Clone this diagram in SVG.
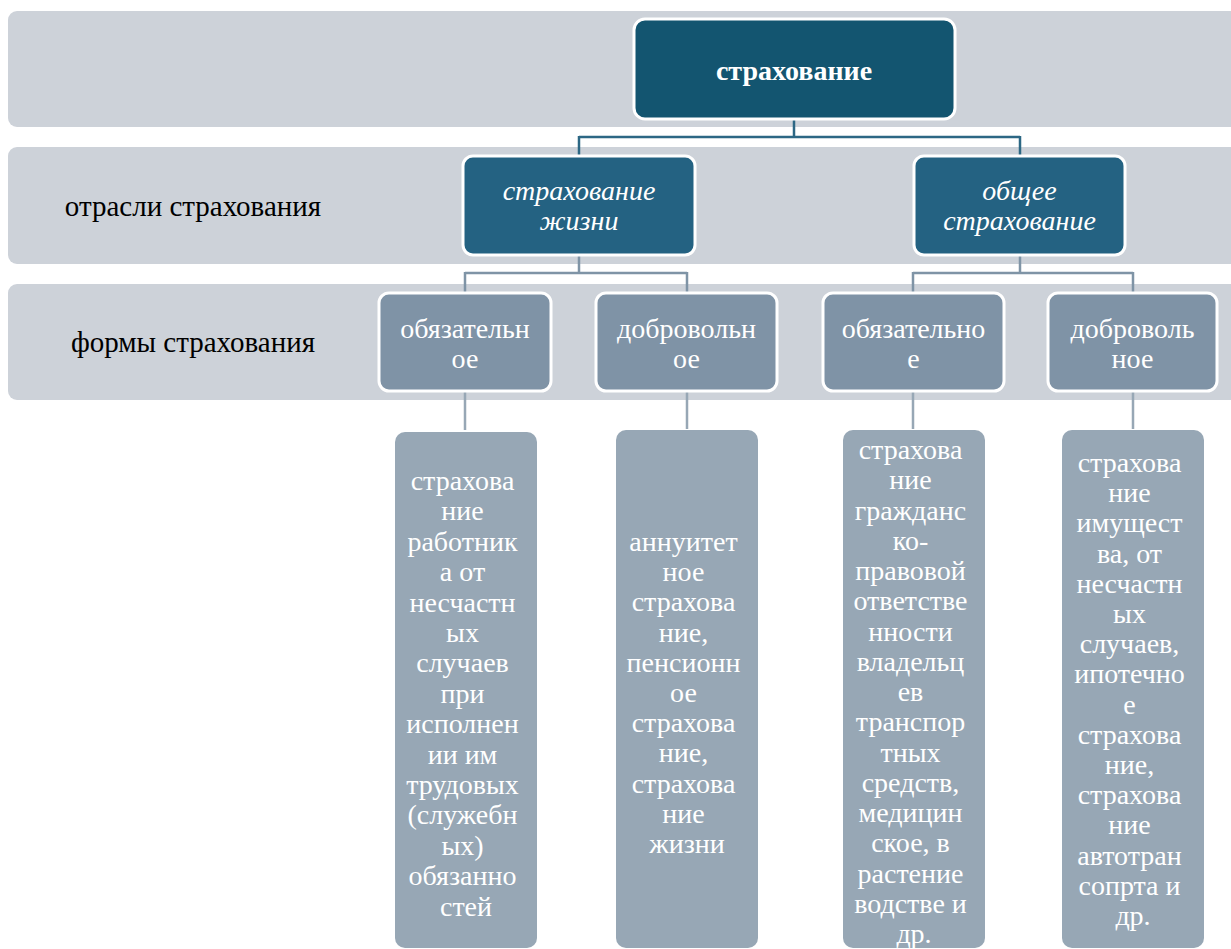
<svg xmlns="http://www.w3.org/2000/svg" width="1231" height="949" viewBox="0 0 1231 949">
<style>
.band{fill:#cdd2d9}
.top{fill:#135570;stroke:#ffffff;stroke-width:3}
.l2{fill:#246282;stroke:#ffffff;stroke-width:3}
.l3{fill:#7f93a6;stroke:#ffffff;stroke-width:3}
.leaf{fill:#97a7b5}
.t{font-size:28px;fill:#ffffff;text-anchor:middle}
.lbl{font-size:29px;fill:#000000;text-anchor:middle}
.c1{stroke:#2c6784;stroke-width:2.5;fill:none}
.c2{stroke:#7f94a6;stroke-width:2.5;fill:none}
.c3{stroke:#97a7b5;stroke-width:2.5;fill:none}
</style>
<g font-family="Liberation Serif, Times New Roman, DejaVu Serif, serif">
<g id="bands">
<rect class="band" x="8" y="11" width="1240" height="116" rx="9"/>
<rect class="band" x="8" y="147" width="1240" height="117" rx="9"/>
<rect class="band" x="8" y="284" width="1240" height="116" rx="9"/>
<text class="lbl" x="193" y="216">отрасли страхования</text>
<text class="lbl" x="193" y="352">формы страхования</text>
</g>
<g id="connectors">
<path class="c1" d="M794 119V137M579 137H1020M579 136V156M1020 136V156"/>
<path class="c2" d="M579 255V273M465 273H687M465 272V293M687 272V293"/>
<path class="c2" d="M1020 255V273M913 273H1133M913 272V293M1133 272V293"/>
<path class="c3" d="M465 392V430M687 392V429M913 392V429M1133 392V429"/>
</g>
<g id="n-root">
<rect class="top" x="634" y="19" width="321" height="100" rx="11"/>
<text class="t" x="794" y="80" font-weight="bold">страхование</text>
</g>
<g id="n-life">
<rect class="l2" x="463" y="156" width="232" height="99" rx="10"/>
<text class="t" x="579" y="200" font-style="italic">страхование</text>
<text class="t" x="579" y="230" font-style="italic">жизни</text>
</g>
<g id="n-general">
<rect class="l2" x="914" y="156" width="211" height="99" rx="10"/>
<text class="t" x="1019.5" y="200" font-style="italic">общее</text>
<text class="t" x="1019.5" y="230" font-style="italic">страхование</text>
</g>
<g id="n-life-oblig">
<rect class="l3" x="379" y="293" width="172" height="98" rx="10"/>
<text class="t" x="465" y="338">обязательн</text>
<text class="t" x="465" y="368">ое</text>
</g>
<g id="n-life-vol">
<rect class="l3" x="596" y="293" width="181" height="98" rx="10"/>
<text class="t" x="686.5" y="338">добровольн</text>
<text class="t" x="686.5" y="368">ое</text>
</g>
<g id="n-gen-oblig">
<rect class="l3" x="823" y="293" width="181" height="98" rx="10"/>
<text class="t" x="913.5" y="338">обязательно</text>
<text class="t" x="913.5" y="368">е</text>
</g>
<g id="n-gen-vol">
<rect class="l3" x="1048" y="293" width="169" height="98" rx="10"/>
<text class="t" x="1132.5" y="338">доброволь</text>
<text class="t" x="1132.5" y="368">ное</text>
</g>
<g id="leaf-life-oblig">
<rect class="leaf" x="395" y="432" width="142" height="516" rx="10"/>
<text class="t" x="466">
<tspan x="466" y="490">страхова</tspan>
<tspan x="466" y="520.4">ние</tspan>
<tspan x="466" y="550.8">работник</tspan>
<tspan x="466" y="581.2">а от</tspan>
<tspan x="466" y="611.6">несчастн</tspan>
<tspan x="466" y="642">ых</tspan>
<tspan x="466" y="672.4">случаев</tspan>
<tspan x="466" y="702.8">при</tspan>
<tspan x="466" y="733.2">исполнен</tspan>
<tspan x="466" y="763.6">ии им</tspan>
<tspan x="466" y="794">трудовых</tspan>
<tspan x="466" y="824.4">(служебн</tspan>
<tspan x="466" y="854.8">ых)</tspan>
<tspan x="466" y="885.2">обязанно</tspan>
<tspan x="466" y="915.6">стей</tspan>
</text>
</g>
<g id="leaf-life-vol">
<rect class="leaf" x="616" y="430" width="142" height="518" rx="10"/>
<text class="t" x="687">
<tspan x="687" y="551">аннуитет</tspan>
<tspan x="687" y="581.2">ное</tspan>
<tspan x="687" y="611.4">страхова</tspan>
<tspan x="687" y="641.6">ние,</tspan>
<tspan x="687" y="671.8">пенсионн</tspan>
<tspan x="687" y="702">ое</tspan>
<tspan x="687" y="732.2">страхова</tspan>
<tspan x="687" y="762.4">ние,</tspan>
<tspan x="687" y="792.6">страхова</tspan>
<tspan x="687" y="822.8">ние</tspan>
<tspan x="687" y="853">жизни</tspan>
</text>
</g>
<g id="leaf-gen-oblig">
<rect class="leaf" x="843" y="430" width="142" height="518" rx="10"/>
<text class="t" x="914">
<tspan x="914" y="459">страхова</tspan>
<tspan x="914" y="489.25">ние</tspan>
<tspan x="914" y="519.5">гражданс</tspan>
<tspan x="914" y="549.75">ко-</tspan>
<tspan x="914" y="580">правовой</tspan>
<tspan x="914" y="610.25">ответстве</tspan>
<tspan x="914" y="640.5">нности</tspan>
<tspan x="914" y="670.75">владельц</tspan>
<tspan x="914" y="701">ев</tspan>
<tspan x="914" y="731.25">транспор</tspan>
<tspan x="914" y="761.5">тных</tspan>
<tspan x="914" y="791.75">средств,</tspan>
<tspan x="914" y="822">медицин</tspan>
<tspan x="914" y="852.25">ское, в</tspan>
<tspan x="914" y="882.5">растение</tspan>
<tspan x="914" y="912.75">водстве и</tspan>
<tspan x="914" y="943">др.</tspan>
</text>
</g>
<g id="leaf-gen-vol">
<rect class="leaf" x="1062" y="430" width="142" height="518" rx="10"/>
<text class="t" x="1133">
<tspan x="1133" y="472">страхова</tspan>
<tspan x="1133" y="502.2">ние</tspan>
<tspan x="1133" y="532.4">имущест</tspan>
<tspan x="1133" y="562.6">ва, от</tspan>
<tspan x="1133" y="592.8">несчастн</tspan>
<tspan x="1133" y="623">ых</tspan>
<tspan x="1133" y="653.2">случаев,</tspan>
<tspan x="1133" y="683.4">ипотечно</tspan>
<tspan x="1133" y="713.6">е</tspan>
<tspan x="1133" y="743.8">страхова</tspan>
<tspan x="1133" y="774">ние,</tspan>
<tspan x="1133" y="804.2">страхова</tspan>
<tspan x="1133" y="834.4">ние</tspan>
<tspan x="1133" y="864.6">автотран</tspan>
<tspan x="1133" y="894.8">сопрта и</tspan>
<tspan x="1133" y="925">др.</tspan>
</text>
</g>
</g>
</svg>
